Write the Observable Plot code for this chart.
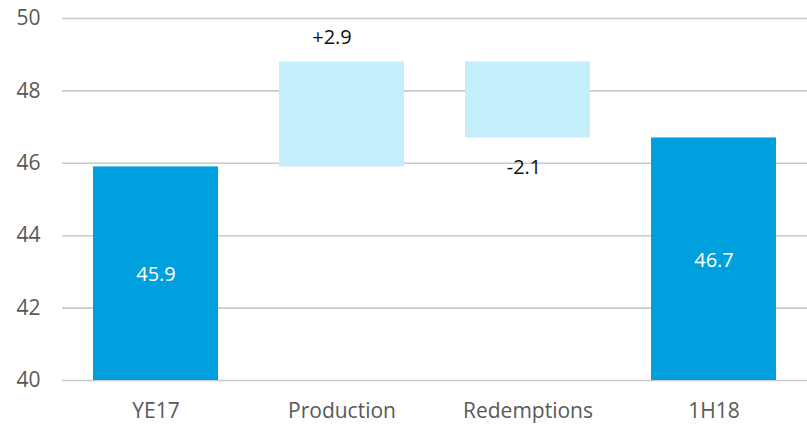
<!DOCTYPE html>
<html>
<head>
<meta charset="utf-8">
<script src="https://cdn.jsdelivr.net/npm/d3@7"></script>
<script src="https://cdn.jsdelivr.net/npm/@observablehq/plot@0.6"></script>
<style>
  html, body { margin: 0; padding: 0; background: #fff; }
  #chart svg { display: block; }
</style>
</head>
<body>
<div id="chart"></div>
<script>
const categories = ["YE17", "Production", "Redemptions", "1H18"];
const kinds = ["total", "delta", "delta", "total"];
const amounts = [45.9, 2.9, -2.1, 46.7];
const labels = ["45.9", "+2.9", "-2.1", "46.7"];
const yTicks = [40, 42, 44, 46, 48, 50];
const yMin = 40;

// build waterfall table
let running = 0;
const rows = categories.map((c, i) => {
  let y1, y2;
  if (kinds[i] === "total") { y1 = yMin; y2 = amounts[i]; running = amounts[i]; }
  else { y1 = running; y2 = running + amounts[i]; running = y2; }
  return { cat: c, kind: kinds[i], y1, y2, label: labels[i], amount: amounts[i] };
});
const totals = rows.filter(d => d.kind === "total");
const ups = rows.filter(d => d.kind === "delta" && d.amount >= 0);
const downs = rows.filter(d => d.kind === "delta" && d.amount < 0);

const chart = Plot.plot({
  width: 807,
  height: 424,
  marginTop: 18,
  marginBottom: 44,
  marginLeft: 62,
  marginRight: 0,
  style: { fontFamily: "'Open Sans', sans-serif", fontSize: "20px", color: "#595959" },
  x: { domain: categories, paddingInner: 0.33, paddingOuter: 0.165, label: null },
  y: { domain: [40, 50], label: null },
  marks: [
    Plot.ruleY(yTicks, { stroke: "#c8cacc", strokeWidth: 1.6, strokeOpacity: 1 }),
    Plot.axisX({ tickSize: 0, tickPadding: 23, label: null, fontSize: 21, fill: "#595959" }),
    Plot.axisY({ ticks: yTicks, tickSize: 0, tickPadding: 22, label: null, fontSize: 21, fill: "#595959" }),
    Plot.barY(rows, {
      x: "cat", y1: "y1", y2: "y2",
      fill: d => d.kind === "total" ? "#009fdd" : "#c5eefc"
    }),
    Plot.text(totals, {
      x: "cat", y: d => (d.y1 + d.y2) / 2, text: "label",
      fill: "white", fontSize: 20, dy: 1
    }),
    Plot.text(ups, {
      x: "cat", y: "y2", text: "label", dy: -24, dx: -10, fill: "#111", fontSize: 20
    }),
    Plot.text(downs, {
      x: "cat", y: "y2", text: "label", dy: 30, dx: -4, fill: "#111", fontSize: 20
    })
  ]
});
document.getElementById("chart").appendChild(chart);
</script>
</body>
</html>
